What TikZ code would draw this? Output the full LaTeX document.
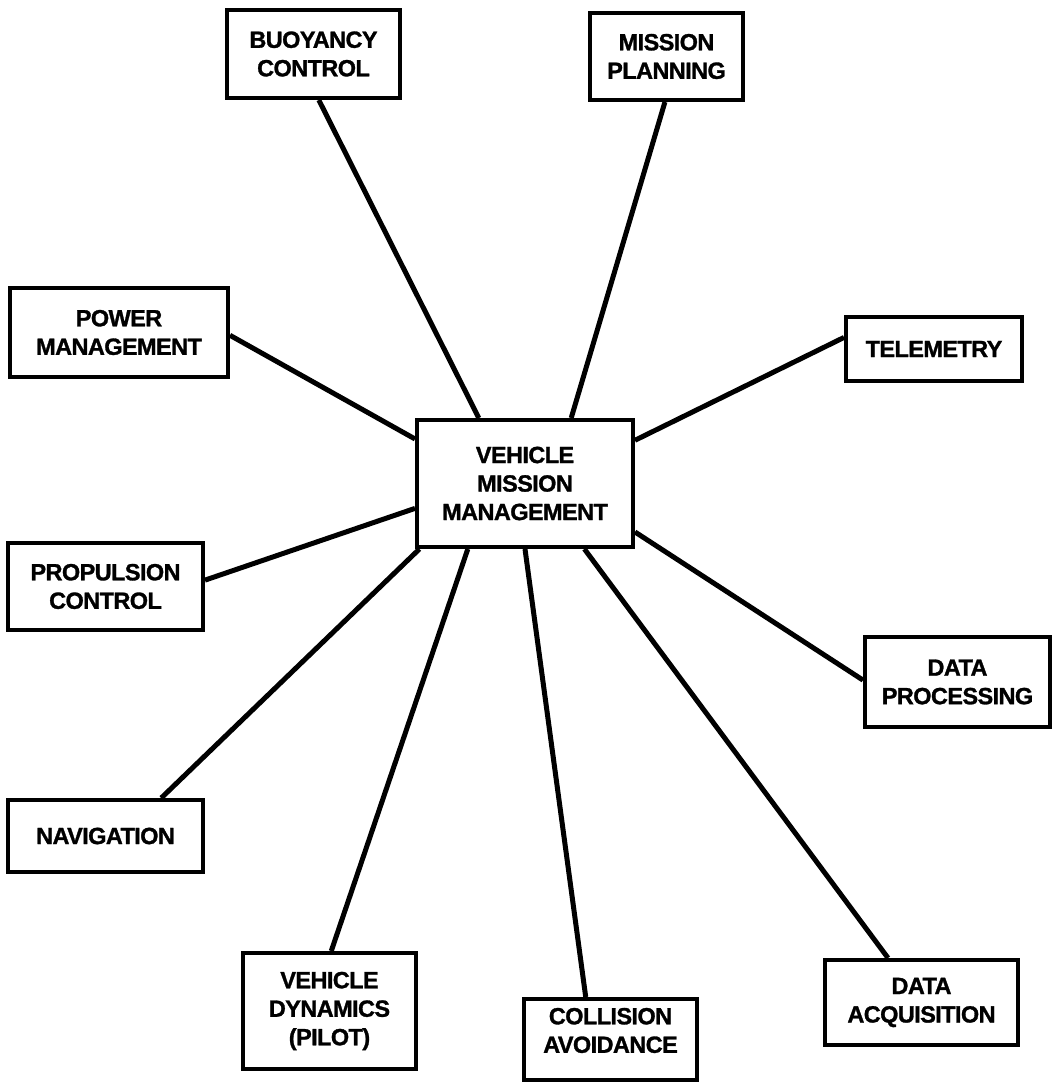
\documentclass[tikz,border=0pt]{standalone}
\usepackage{fontspec}
\setmainfont{Liberation Sans}
\newfontfamily\labelfont{Liberation Sans}[FakeBold=1.2, LetterSpace=-2.5]
\usetikzlibrary{calc}
\begin{document}
\begin{tikzpicture}[x=1pt, y=-1pt,
  box/.style={draw, line width=4pt, align=center, inner sep=0pt,
    font=\labelfont\bfseries\fontsize{23.5}{28.5}\selectfont},
  lbl/.style={align=center, inner sep=0pt,
    font=\labelfont\bfseries\fontsize{23.5}{28.5}\selectfont},
  link/.style={line width=5pt}]
\fill[white] (0,0) rectangle (1052,1085);
\useasboundingbox (0,0) rectangle (1052,1085);

% central block
\node[box, minimum width=216, minimum height=127] (vmm) at (525,483.5)
  {VEHICLE\\MISSION\\MANAGEMENT};

% surrounding functions
\node[box, minimum width=173, minimum height=88] (buoy) at (313.5,54)
  {BUOYANCY\\CONTROL};
\node[box, minimum width=153, minimum height=87] (plan) at (666.5,56.5)
  {MISSION\\PLANNING};
\node[box, minimum width=218, minimum height=89] (power) at (119,332.5)
  {POWER\\MANAGEMENT};
\node[box, minimum width=176, minimum height=64] (telem) at (934,349)
  {TELEMETRY};
\node[box, minimum width=195, minimum height=87] (prop) at (105.5,586.5)
  {PROPULSION\\CONTROL};
\node[box, minimum width=185, minimum height=90] (dproc) at (957.5,682)
  {DATA\\PROCESSING};
\node[box, minimum width=195, minimum height=72] (nav) at (105.5,836)
  {NAVIGATION};
\node[box, minimum width=173, minimum height=116] (dyn) at (329.5,1011)
  {VEHICLE\\DYNAMICS\\(PILOT)};
\node[box, minimum width=173, minimum height=81] (coll) at (610.5,1039.5) {};
\node[lbl] (colltxt) at ($(coll.center)+(0,-9)$) {COLLISION\\AVOIDANCE};
\node[box, minimum width=193, minimum height=85] (dacq) at (921.5,1002.5)
  {DATA\\ACQUISITION};

% connectors to the central block
\draw[link] ($(buoy.south west)!0.53!(buoy.south east)$) -- ($(vmm.north west)!0.29!(vmm.north east)$);
\draw[link] ($(plan.south west)!0.49!(plan.south east)$) -- ($(vmm.north west)!0.71!(vmm.north east)$);
\draw[link] ($(power.north east)!0.53!(power.south east)$) -- ($(vmm.north west)!0.16!(vmm.south west)$);
\draw[link] ($(telem.north west)!0.33!(telem.south west)$) -- ($(vmm.north east)!0.17!(vmm.south east)$);
\draw[link] ($(prop.north east)!0.43!(prop.south east)$) -- ($(vmm.north west)!0.69!(vmm.south west)$);
\draw[link] ($(dproc.north west)!0.48!(dproc.south west)$) -- ($(vmm.north east)!0.87!(vmm.south east)$);
\draw[link] ($(nav.north west)!0.78!(nav.north east)$) -- ($(vmm.south west)!0.02!(vmm.south east)$);
\draw[link] ($(dyn.north west)!0.51!(dyn.north east)$) -- ($(vmm.south west)!0.24!(vmm.south east)$);
\draw[link] ($(coll.north west)!0.36!(coll.north east)$) -- ($(vmm.south west)!0.50!(vmm.south east)$);
\draw[link] ($(dacq.north west)!0.33!(dacq.north east)$) -- ($(vmm.south west)!0.77!(vmm.south east)$);
\end{tikzpicture}
\end{document}
